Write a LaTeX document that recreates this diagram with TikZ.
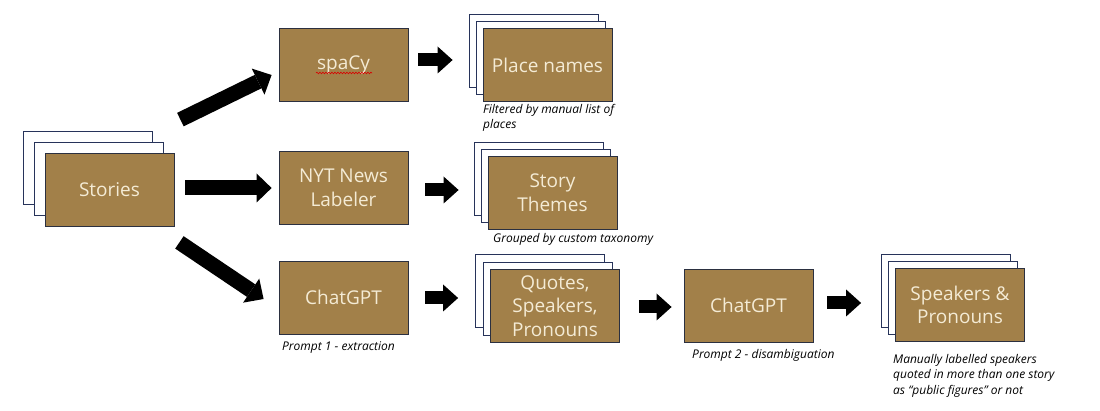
\documentclass[tikz,border=0pt]{standalone}
\usepackage{fontspec}
\setmainfont{Open Sans}
\usetikzlibrary{arrows.meta,decorations.pathmorphing}
\definecolor{boxbrown}{HTML}{A28049}
\definecolor{boxtext}{HTML}{F4EBD5}
\definecolor{boxline}{HTML}{2B3040}
\definecolor{backline}{HTML}{27335A}
\tikzset{
  mainbox/.style={draw=boxline, line width=0.8pt, fill=boxbrown, text=boxtext,
    minimum width=129pt, minimum height=73pt, inner sep=2pt, align=center,
    font=\fontsize{19}{23.5}\selectfont},
  backbox/.style={draw=backline, line width=0.9pt, fill=white,
    minimum width=129pt, minimum height=73pt, inner sep=0pt},
  note/.style={anchor=north west, inner sep=0pt, align=left,
    font=\fontsize{12}{15.5}\selectfont\itshape},
  bigarrow/.style={line width=15pt, line cap=butt,
    -{Triangle[length=15pt,width=29pt,line width=0pt]}},
  smallarrow/.style={line width=13pt, line cap=butt,
    -{Triangle[length=15pt,width=27pt,line width=0pt]}}
}
\newcommand\docstack[5]{%
  \node[backbox] (#1b) at (#2-2*#4, #3-2*#4) {};
  \node[backbox] (#1m) at (#2-#4, #3-#4) {};
  \node[mainbox] (#1) at (#2,#3) {#5};}
\begin{document}
\begin{tikzpicture}[x=1pt,y=-1pt]
\useasboundingbox[fill=white] (0,0) rectangle (1100,411);
% stacks
\docstack{stories}{109.5}{189.5}{10.8}{Stories}
\docstack{place}{547.5}{65}{7}{Place names}
\docstack{themes}{552.5}{192.5}{7}{Story\\Themes}
\docstack{quotes}{555}{306}{7.5}{Quotes,\\Speakers,\\Pronouns}
\docstack{speakers}{960}{305}{7}{Speakers \&\\Pronouns}
% tools
\node[mainbox] (spacy) at (343.5,64.5) {spaCy};
\node[mainbox] (nyt) at (343.5,188) {NYT News\\Labeler};
\node[mainbox] (chat1) at (343.5,297.5) {ChatGPT};
\node[mainbox] (chat2) at (748.5,305.5) {ChatGPT};
% spell-check underline
\draw[red!85!black, line width=0.6pt, decorate,
  decoration={snake, amplitude=0.8pt, segment length=3pt}]
  ([xshift=-27.5pt,yshift=-8.5pt]spacy.center) -- ([xshift=28.5pt,yshift=-8.5pt]spacy.center);
% notes
\node[note] (n1) at (483,104) {Filtered by manual list of\\places};
\node[note] (n2) at (493,233) {Grouped by custom taxonomy};
\node[note] (n3) at (282,341) {Prompt 1 - extraction};
\node[note] (n4) at (692,349) {Prompt 2 - disambiguation};
\node[note] (n5) at (893,354) {Manually labelled speakers\\quoted in more than one story\\as “public figures” or not};
% arrows
\draw[bigarrow] ([xshift=6pt,yshift=33pt]stories.north east) -- ([xshift=-7pt,yshift=-10.5pt]spacy.west);
\draw[bigarrow] ([xshift=11pt,yshift=1.5pt]stories.east) -- ([xshift=-7pt]nyt.west);
\draw[bigarrow] ([xshift=5pt,yshift=-16pt]stories.south east) -- ([xshift=-15pt,yshift=-1.5pt]chat1.west);
\draw[smallarrow] ([xshift=10pt,yshift=4.5pt]spacy.east) -- ([xshift=-30pt,yshift=5pt]place.west);
\draw[smallarrow] ([xshift=17pt,yshift=-2pt]nyt.east) -- ([xshift=-29pt,yshift=2.5pt]themes.west);
\draw[smallarrow] ([xshift=17pt,yshift=-0.5pt]chat1.east) -- ([xshift=-32pt,yshift=8pt]quotes.west);
\draw[smallarrow] ([xshift=19pt,yshift=-1pt]quotes.east) -- ([xshift=-12pt,yshift=-1.5pt]chat2.west);
\draw[smallarrow] ([xshift=14pt,yshift=2.5pt]chat2.east) -- ([xshift=-34pt,yshift=2pt]speakers.west);
\end{tikzpicture}
\end{document}
